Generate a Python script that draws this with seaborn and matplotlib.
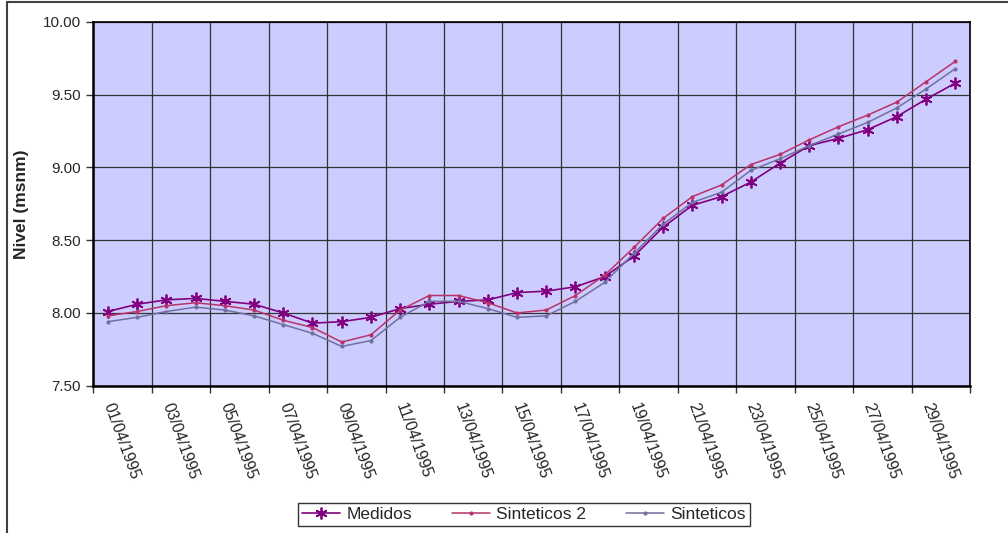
import matplotlib
matplotlib.use("Agg")
import matplotlib.pyplot as plt
import seaborn as sns
import numpy as np
from matplotlib.lines import Line2D
from matplotlib.ticker import FixedLocator, NullFormatter

dates = ["01/04/1995", "02/04/1995", "03/04/1995", "04/04/1995", "05/04/1995",
         "06/04/1995", "07/04/1995", "08/04/1995", "09/04/1995", "10/04/1995",
         "11/04/1995", "12/04/1995", "13/04/1995", "14/04/1995", "15/04/1995",
         "16/04/1995", "17/04/1995", "18/04/1995", "19/04/1995", "20/04/1995",
         "21/04/1995", "22/04/1995", "23/04/1995", "24/04/1995", "25/04/1995",
         "26/04/1995", "27/04/1995", "28/04/1995", "29/04/1995", "30/04/1995"]

medidos = [8.01, 8.06, 8.09, 8.10, 8.08, 8.06, 8.00, 7.93, 7.94, 7.97,
           8.03, 8.06, 8.08, 8.09, 8.14, 8.15, 8.18, 8.25, 8.39, 8.59,
           8.74, 8.80, 8.90, 9.03, 9.15, 9.20, 9.26, 9.35, 9.47, 9.58]
sinteticos2 = [7.98, 8.01, 8.05, 8.07, 8.05, 8.02, 7.95, 7.90, 7.80, 7.85,
               8.02, 8.12, 8.12, 8.07, 8.00, 8.02, 8.12, 8.26, 8.45, 8.65,
               8.80, 8.88, 9.02, 9.09, 9.19, 9.28, 9.36, 9.45, 9.59, 9.73]
sinteticos = [7.94, 7.97, 8.01, 8.04, 8.02, 7.98, 7.92, 7.86, 7.77, 7.81,
              7.97, 8.08, 8.08, 8.03, 7.97, 7.98, 8.08, 8.21, 8.41, 8.61,
              8.76, 8.83, 8.98, 9.06, 9.15, 9.23, 9.31, 9.41, 9.54, 9.68]

yticks = [7.50, 8.00, 8.50, 9.00, 9.50, 10.00]
series_names = ["Medidos", "Sinteticos 2", "Sinteticos"]
colors = ["#800080", "#B8336A", "#7070A0"]

sns.set_theme(style="white")
plt.rcParams["font.family"] = ["Liberation Sans", "DejaVu Sans"]

fig = plt.figure(figsize=(10.08, 5.33), dpi=100)
ax = fig.add_axes([93.3 / 1008, 1 - 385.7 / 533, (970 - 93.3) / 1008, (385.7 - 22) / 533])
ax.set_facecolor("#CCCCFF")

x = np.arange(len(dates))
sns.lineplot(x=x, y=medidos, ax=ax, color=colors[0], marker=(6, 2, 0),
             markersize=8.5, markeredgewidth=1.3, markeredgecolor=colors[0],
             linewidth=1.2, label=series_names[0], zorder=3)
sns.lineplot(x=x, y=sinteticos2, ax=ax, color=colors[1], marker="o",
             markersize=3, markeredgewidth=0, linewidth=1.1,
             label=series_names[1], zorder=4)
sns.lineplot(x=x, y=sinteticos, ax=ax, color=colors[2], marker="o",
             markersize=3, markeredgewidth=0, linewidth=1.1,
             label=series_names[2], zorder=5)

ax.set_xlim(-0.5, len(dates) - 0.5)
ax.set_ylim(7.5, 10.0)

# boundaries every two categories: tick marks + vertical grid
bounds = np.arange(-0.5, len(dates), 2)
ax.xaxis.set_major_locator(FixedLocator(bounds))
ax.xaxis.set_major_formatter(NullFormatter())
ax.xaxis.set_minor_locator(FixedLocator(x[::2]))
ax.set_xticklabels(dates[::2], minor=True)
ax.tick_params(axis="x", which="major", length=5, width=1, color="#333333",
               direction="out", bottom=True)
ax.tick_params(axis="x", which="minor", length=0, pad=13, labelsize=11.5,
               bottom=True)
for lab in ax.get_xticklabels(minor=True):
    lab.set_rotation(-70)
    lab.set_rotation_mode("anchor")
    lab.set_ha("left")
    lab.set_va("center")

ax.set_yticks(yticks)
ax.set_yticklabels([f"{v:.2f}" for v in yticks])
ax.tick_params(axis="y", length=5, width=1, color="#333333", direction="out",
               left=True, labelsize=11, pad=4)

ax.grid(True, which="major", color="#333333", linewidth=0.9)
ax.set_axisbelow(True)
for side, sp in ax.spines.items():
    sp.set_visible(True)
    sp.set_color("black")
    sp.set_linewidth(1.8 if side in ("left", "bottom") else 1.2)

ax.set_xlabel("")
ax.set_ylabel("Nivel (msnm)", fontsize=12.5, fontweight="bold", labelpad=10)

handles, labels = ax.get_legend_handles_labels()
ax.get_legend().remove()
leg = fig.legend(handles, labels, loc="center", ncol=3,
                 bbox_to_anchor=(524 / 1008, 1 - 514.5 / 533),
                 fontsize=12.5, frameon=True, fancybox=False, handlelength=2.2,
                 handletextpad=0.35, columnspacing=2.3, borderpad=0.25,
                 borderaxespad=0)
leg.get_frame().set_edgecolor("black")
leg.get_frame().set_linewidth(1.0)

# chart-area border (left and top visible)
fig.add_artist(Line2D([6.5 / 1008, 6.5 / 1008], [0, 1 - 1.5 / 533],
                      transform=fig.transFigure, color="#404040", linewidth=1.5))
fig.add_artist(Line2D([6.5 / 1008, 1], [1 - 1.5 / 533, 1 - 1.5 / 533],
                      transform=fig.transFigure, color="#404040", linewidth=1.5))

fig.savefig("out.png", dpi=100)
